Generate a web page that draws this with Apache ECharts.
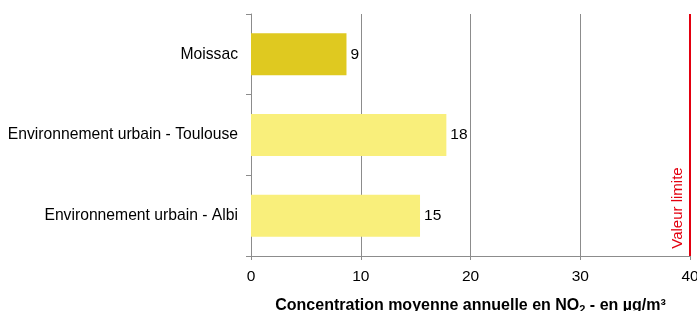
<!DOCTYPE html>
<html>
<head>
<meta charset="utf-8">
<script src="https://cdn.jsdelivr.net/npm/echarts@6/dist/echarts.min.js"></script>
<style>
  html, body { margin: 0; padding: 0; background: #fff; }
  #chart { width: 697px; height: 311px; }
</style>
</head>
<body>
<div id="chart"></div>
<script>
// top to bottom as drawn
const categories = ['Moissac', 'Environnement urbain - Toulouse', 'Environnement urbain - Albi']
const values = [8.7, 17.8, 15.4]
const labels = ['9', '18', '15']
const limitValue = 40
const xTicks = [0, 10, 20, 30, 40]

const COLORS = ['#dfc920', '#f9ef7b', '#f9ef7b']
const RED = '#e3000f'
const FONT = 'Liberation Sans, Arial, sans-serif'

const chart = echarts.init(document.getElementById('chart'))
chart.setOption({
  animation: false,
  textStyle: { fontFamily: FONT },
  grid: { left: 251, right: 7, top: 14, bottom: 55, outerBoundsMode: 'none', containLabel: false },
  xAxis: {
    type: 'value', min: xTicks[0], max: xTicks[xTicks.length - 1], interval: 10,
    name: '{t|Concentration moyenne annuelle en NO}{s|2}{t| - en µg/m³}',
    nameLocation: 'middle', nameGap: 41,
    nameTextStyle: {
      rich: {
        t: { fontSize: 16, fontWeight: 'bold', color: '#000', fontFamily: FONT },
        s: { fontSize: 11, fontWeight: 'bold', color: '#000', fontFamily: FONT, verticalAlign: 'bottom', padding: [7, 0, 0, 0] }
      }
    },
    axisLine: { show: true, lineStyle: { color: '#8c8c8c', width: 1 } },
    axisTick: { show: true, length: 4, lineStyle: { color: '#8c8c8c' } },
    axisLabel: { color: '#000', fontSize: 15.5, margin: 13 },
    splitLine: { show: true, lineStyle: { color: '#8c8c8c', width: 1 } }
  },
  yAxis: {
    type: 'category', inverse: true, data: categories,
    axisLine: { show: true, lineStyle: { color: '#8c8c8c', width: 1 } },
    axisTick: { show: true, length: 5, inside: false, lineStyle: { color: '#8c8c8c' } },
    axisLabel: { color: '#000', fontSize: 15.7, margin: 13 }
  },
  series: [{
    type: 'bar',
    barCategoryGap: '48%',
    data: values.map((v, i) => ({ value: v, itemStyle: { color: COLORS[i] } })),
    label: {
      show: true, position: 'right', distance: 4, color: '#000', fontSize: 15.5,
      formatter: p => labels[p.dataIndex]
    },
    markLine: {
      silent: true, symbol: 'none',
      lineStyle: { color: RED, width: 2, type: 'solid' },
      label: { show: false },
      data: [{ xAxis: limitValue }]
    }
  }]
})

// "Valeur limite" reads bottom to top, just left of the limit line
const px = chart.convertToPixel({ xAxisIndex: 0 }, limitValue)
chart.setOption({
  graphic: [{
    type: 'text', x: px - 12, y: 208, rotation: Math.PI / 2, silent: true,
    style: { text: 'Valeur limite', fill: RED, font: '15px ' + FONT, align: 'center', verticalAlign: 'middle' }
  }]
})
</script>
</body>
</html>
